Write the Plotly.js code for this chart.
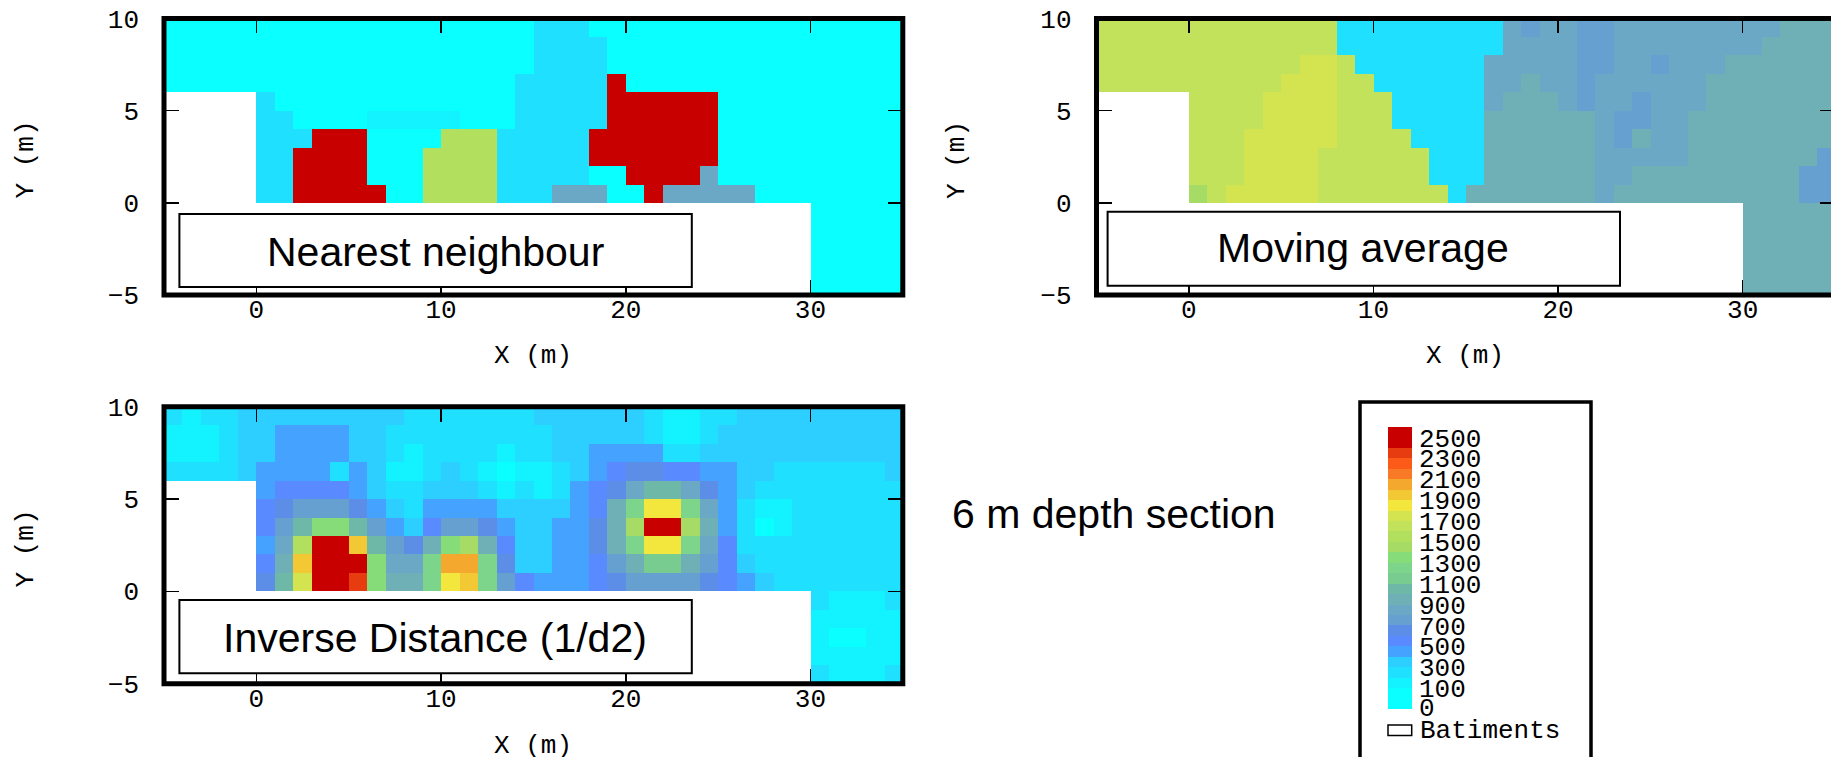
<!DOCTYPE html>
<html>
<head>
<meta charset="utf-8">
<script src="https://cdn.plot.ly/plotly-3.0.1.min.js"></script>
<style>html,body{margin:0;padding:0;background:#fff;overflow:hidden;width:1831px;height:757px}#g{width:1900px;height:757px}</style>
</head>
<body>
<div id="g"></div>
<script>
const _ = null;
// Legend classes, bottom to top (each class is 100 wide)
const legendColors = ['#0affff','#12f3ff','#20e0ff','#2ccfff','#45a3ff','#5a8aff','#5c8ee8','#65a0d0','#6aa8c5','#6eb0b5','#6eb8a8','#78cc8f','#7cd58a','#85dc78','#a6dc65','#b3df5e','#c3e25b','#d4e350','#f3e73e','#f3c835','#f4a92e','#f97a26','#fc5a18','#e63c10','#c80000'];
const legendValues = [50,150,250,350,450,550,650,750,850,950,1050,1150,1250,1350,1450,1550,1650,1750,1850,1950,2050,2150,2250,2350,2450];
const legendEdges = [-100,100,200,300,400,500,600,700,800,900,1000,1100,1200,1300,1400,1500,1600,1700,1800,1900,2000,2100,2200,2300,2400,2600];
const legendLabels = ['0','100','300','500','700','900','1100','1300','1500','1700','1900','2100','2300','2500'];
const legendLabelAt = [-79,100,300,500,700,900,1100,1300,1500,1700,1900,2100,2300,2500];

const xTicks = [0,10,20,30];
const yTicks = [-5,0,5,10];

// Grids: rows from y=9..10 down to y=-5..-4; columns from x=-5..-4 to x=34..35
const nearestRows = [
[50,50,50,50,50, 50,50,50,50,50,50,50,50,50,50, 50,50,50,50,50,250,250,250,50,50, 50,50,50,50,50,50,50,50,50,50, 50,50,50,50,50],
[50,50,50,50,50, 50,50,50,50,50,50,50,50,50,50, 50,50,50,50,50,250,250,250,250,50, 50,50,50,50,50,50,50,50,50,50, 50,50,50,50,50],
[50,50,50,50,50, 50,50,50,50,50,50,50,50,50,50, 50,50,50,50,50,250,250,250,250,50, 50,50,50,50,50,50,50,50,50,50, 50,50,50,50,50],
[50,50,50,50,50, 50,50,50,50,50,50,50,50,50,50, 50,50,50,50,250,250,250,250,250,2450, 50,50,50,50,50,50,50,50,50,50, 50,50,50,50,50],
[_,_,_,_,_, 250,50,50,50,50,50,50,50,50,50, 50,50,50,50,250,250,250,250,250,2450, 2450,2450,2450,2450,2450,50,50,50,50,50, 50,50,50,50,50],
[_,_,_,_,_, 250,250,50,50,50,50,150,150,150,150, 150,50,50,50,250,250,250,250,250,2450, 2450,2450,2450,2450,2450,50,50,50,50,50, 50,50,50,50,50],
[_,_,_,_,_, 250,250,250,2450,2450,2450,50,50,50,50, 1550,1550,1550,250,250,250,250,250,2450,2450, 2450,2450,2450,2450,2450,50,50,50,50,50, 50,50,50,50,50],
[_,_,_,_,_, 250,250,2450,2450,2450,2450,50,50,50,1550, 1550,1550,1550,250,250,250,250,250,2450,2450, 2450,2450,2450,2450,2450,50,50,50,50,50, 50,50,50,50,50],
[_,_,_,_,_, 250,250,2450,2450,2450,2450,50,50,50,1550, 1550,1550,1550,250,250,250,250,250,50,50, 2450,2450,2450,2450,850,50,50,50,50,50, 50,50,50,50,50],
[_,_,_,_,_, 250,250,2450,2450,2450,2450,2450,50,50,1550, 1550,1550,1550,250,250,250,850,850,850,50, 50,2450,850,850,850,850,850,50,50,50, 50,50,50,50,50],
[_,_,_,_,_, _,_,_,_,_,_,_,_,_,_, _,_,_,_,_,_,_,_,_,_, _,_,_,_,_,_,_,_,_,_, 50,50,50,50,50],
[_,_,_,_,_, _,_,_,_,_,_,_,_,_,_, _,_,_,_,_,_,_,_,_,_, _,_,_,_,_,_,_,_,_,_, 50,50,50,50,50],
[_,_,_,_,_, _,_,_,_,_,_,_,_,_,_, _,_,_,_,_,_,_,_,_,_, _,_,_,_,_,_,_,_,_,_, 50,50,50,50,50],
[_,_,_,_,_, _,_,_,_,_,_,_,_,_,_, _,_,_,_,_,_,_,_,_,_, _,_,_,_,_,_,_,_,_,_, 50,50,50,50,50],
[_,_,_,_,_, _,_,_,_,_,_,_,_,_,_, _,_,_,_,_,_,_,_,_,_, _,_,_,_,_,_,_,_,_,_, 50,50,50,50,50]
];
const movingRows = [
[1650,1650,1650,1650,1650, 1650,1650,1650,1650,1650,1650,1650,1650,250,250, 250,250,250,250,250,250,250,850,750,850, 850,750,750,850,850,850,850,850,850,850, 850,850,950,950,950],
[1650,1650,1650,1650,1650, 1650,1650,1650,1650,1650,1650,1650,1650,250,250, 250,250,250,250,250,250,250,850,850,850, 850,750,750,850,850,850,850,850,850,850, 850,950,950,950,950],
[1650,1650,1650,1650,1650, 1650,1650,1650,1650,1650,1650,1750,1750,1650,250, 250,250,250,250,250,250,850,850,850,850, 850,750,750,850,850,750,850,850,850,950, 950,950,950,950,950],
[1650,1650,1650,1650,1650, 1650,1650,1650,1650,1650,1750,1750,1750,1650,1650, 250,250,250,250,250,250,850,850,950,850, 850,750,850,850,850,850,850,850,950,950, 950,950,950,950,950],
[_,_,_,_,_, 1650,1650,1650,1650,1750,1750,1750,1750,1650,1650, 1650,250,250,250,250,250,850,950,950,950, 850,750,850,850,750,850,850,850,950,950, 950,950,950,950,950],
[_,_,_,_,_, 1650,1650,1650,1650,1750,1750,1750,1750,1650,1650, 1650,250,250,250,250,250,950,950,950,950, 950,950,850,750,750,850,850,950,950,950, 950,950,950,950,950],
[_,_,_,_,_, 1650,1650,1650,1750,1750,1750,1750,1750,1650,1650, 1650,1650,250,250,250,250,950,950,950,950, 950,950,850,750,950,850,850,950,950,950, 950,950,950,950,950],
[_,_,_,_,_, 1650,1650,1650,1750,1750,1750,1750,1650,1650,1650, 1650,1650,1650,250,250,250,950,950,950,950, 950,950,850,850,850,850,850,950,950,950, 950,950,950,950,750],
[_,_,_,_,_, 1650,1650,1650,1750,1750,1750,1750,1650,1650,1650, 1650,1650,1650,250,250,250,950,950,950,950, 950,950,850,850,950,950,950,950,950,950, 950,950,950,750,750],
[_,_,_,_,_, 1450,1650,1750,1750,1750,1750,1750,1650,1650,1650, 1650,1650,1650,1650,250,950,950,950,950,950, 950,950,850,950,950,950,950,950,950,950, 950,950,950,750,750],
[_,_,_,_,_, _,_,_,_,_,_,_,_,_,_, _,_,_,_,_,_,_,_,_,_, _,_,_,_,_,_,_,_,_,_, 950,950,950,950,950],
[_,_,_,_,_, _,_,_,_,_,_,_,_,_,_, _,_,_,_,_,_,_,_,_,_, _,_,_,_,_,_,_,_,_,_, 950,950,950,950,950],
[_,_,_,_,_, _,_,_,_,_,_,_,_,_,_, _,_,_,_,_,_,_,_,_,_, _,_,_,_,_,_,_,_,_,_, 950,950,950,950,950],
[_,_,_,_,_, _,_,_,_,_,_,_,_,_,_, _,_,_,_,_,_,_,_,_,_, _,_,_,_,_,_,_,_,_,_, 950,950,950,950,950],
[_,_,_,_,_, _,_,_,_,_,_,_,_,_,_, _,_,_,_,_,_,_,_,_,_, _,_,_,_,_,_,_,_,_,_, 950,950,950,950,950]
];
const inverseRows = [
[250,150,250,250,350, 350,350,350,350,350,350,350,350,250,250, 250,250,250,250,250,350,350,350,350,350, 350,250,150,150,250,250,350,350,350,350, 350,350,350,350,350],
[150,150,150,250,350, 350,450,450,450,450,350,350,250,250,250, 250,250,250,250,250,250,350,350,350,350, 350,250,150,150,250,350,350,350,350,350, 350,350,350,350,350],
[150,150,150,250,350, 350,450,450,450,450,350,350,250,150,250, 250,250,250,150,250,250,350,350,450,450, 450,450,250,250,350,350,350,350,350,350, 350,350,350,350,350],
[250,250,250,250,350, 450,450,450,450,250,450,350,150,150,250, 350,250,150,50,150,150,250,350,450,550, 650,650,550,550,450,450,350,350,250,250, 250,250,250,250,350],
[_,_,_,_,_, 450,550,550,550,550,450,350,250,250,350, 350,350,250,150,250,150,250,450,550,650, 850,1050,1050,850,650,450,350,250,250,250, 250,250,250,250,250],
[_,_,_,_,_, 550,650,750,750,750,650,450,350,250,450, 450,450,450,350,350,350,350,450,550,950, 1250,1850,1850,1250,850,450,250,150,150,250, 250,250,250,250,250],
[_,_,_,_,_, 550,750,1050,1350,1350,1050,750,450,350,550, 750,750,650,450,350,350,450,450,650,950, 1450,2450,2450,1450,950,450,250,50,150,250, 250,250,250,250,250],
[_,_,_,_,_, 450,850,1550,2450,2450,1950,1050,750,650,950, 1350,1450,950,550,350,350,450,450,650,950, 1250,1850,1850,1250,850,550,250,250,250,250, 250,250,250,250,250],
[_,_,_,_,_, 550,950,1950,2450,2450,2450,1350,850,850,1250, 2050,2050,1250,650,350,350,450,450,550,750, 950,1150,1150,950,750,550,350,250,250,250, 250,250,250,250,250],
[_,_,_,_,_, 650,1050,1750,2450,2450,2350,1350,950,950,1250, 1850,1950,1250,750,550,450,450,450,550,650, 750,750,750,750,650,550,450,350,250,250, 250,250,250,250,250],
[_,_,_,_,_, _,_,_,_,_,_,_,_,_,_, _,_,_,_,_,_,_,_,_,_, _,_,_,_,_,_,_,_,_,_, 250,150,150,150,250],
[_,_,_,_,_, _,_,_,_,_,_,_,_,_,_, _,_,_,_,_,_,_,_,_,_, _,_,_,_,_,_,_,_,_,_, 150,150,150,150,150],
[_,_,_,_,_, _,_,_,_,_,_,_,_,_,_, _,_,_,_,_,_,_,_,_,_, _,_,_,_,_,_,_,_,_,_, 150,50,50,150,150],
[_,_,_,_,_, _,_,_,_,_,_,_,_,_,_, _,_,_,_,_,_,_,_,_,_, _,_,_,_,_,_,_,_,_,_, 150,150,150,150,150],
[_,_,_,_,_, _,_,_,_,_,_,_,_,_,_, _,_,_,_,_,_,_,_,_,_, _,_,_,_,_,_,_,_,_,_, 250,150,150,150,250]
];

const W = 1900, H = 757;
const px = v => v / W, py = v => 1 - v / H;
const MONO = 'Liberation Mono, monospace', SANS = 'Liberation Sans, Arial, sans-serif';
const monoSize = 26;

// Stepped colour scale built from the legend classes
const colorscale = [];
legendColors.forEach((c, i) => {
  colorscale.push([i / legendColors.length, c]);
  colorscale.push([(i + 1) / legendColors.length, c]);
});

const panels = [
  {rows: nearestRows, name: '',  l: 164,    r: 902.8,  t: 18.4,  b: 295,   label: 'Nearest neighbour',       box: [179.4, 691.8, 214, 287],  lx: 435,  ly: 252, xtx: 533,  xty: 356, ytx: 25.5, yty: 160},
  {rows: movingRows,  name: '2', l: 1096.5, r: 1835,   t: 18.4,  b: 295,   label: 'Moving average',          box: [1107.6, 1620, 211.7, 285.7], lx: 1363, ly: 248, xtx: 1465, xty: 356, ytx: 957, yty: 160},
  {rows: inverseRows, name: '3', l: 164,    r: 902.8,  t: 406.7, b: 683.7, label: 'Inverse Distance (1/d2)', box: [179.4, 691.8, 600, 673.3], lx: 435,  ly: 638, xtx: 533,  xty: 746, ytx: 25.5, yty: 549}
];

const data = [], shapes = [], annotations = [];
const layout = {
  width: W, height: H, margin: {l: 0, r: 0, t: 0, b: 0, pad: 0},
  paper_bgcolor: '#fff', plot_bgcolor: '#fff', showlegend: false, hovermode: false,
  font: {family: MONO, size: monoSize, color: '#000'}
};

panels.forEach(p => {
  data.push({
    type: 'heatmap', z: p.rows.slice().reverse(), x0: -4.5, dx: 1, y0: -4.5, dy: 1,
    xaxis: 'x' + p.name, yaxis: 'y' + p.name, zmin: 0, zmax: 2500,
    colorscale: colorscale, showscale: false, zsmooth: false, hoverongaps: false
  });
  const ax = {
    showgrid: false, zeroline: false, showline: false, ticks: 'inside', ticklen: 15, tickwidth: 1.5,
    tickcolor: '#000', mirror: 'ticks', tickmode: 'array', tickfont: {family: MONO, size: monoSize, color: '#000'},
    automargin: false, fixedrange: true
  };
  layout['xaxis' + p.name] = Object.assign({}, ax, {
    domain: [px(p.l), px(p.r)], range: [-5, 35], tickvals: xTicks, ticktext: xTicks.map(String),
    anchor: 'y' + p.name, ticklabelstandoff: -4
  });
  layout['yaxis' + p.name] = Object.assign({}, ax, {
    domain: [py(p.b), py(p.t)], range: [-5, 10], tickvals: yTicks, ticktext: ['\u22125', '0', '5', '10'],
    anchor: 'x' + p.name, ticklabelstandoff: 24
  });
  shapes.push({type: 'rect', xref: 'paper', yref: 'paper', x0: px(p.l), x1: px(p.r), y0: py(p.b), y1: py(p.t),
    line: {color: '#000', width: 5}, fillcolor: 'rgba(0,0,0,0)', layer: 'above'});
  shapes.push({type: 'rect', xref: 'paper', yref: 'paper', x0: px(p.box[0]), x1: px(p.box[1]), y0: py(p.box[3]), y1: py(p.box[2]),
    line: {color: '#000', width: 2}, fillcolor: '#fff', layer: 'above'});
  annotations.push({xref: 'paper', yref: 'paper', x: px(p.lx), y: py(p.ly), text: p.label, showarrow: false,
    xanchor: 'center', yanchor: 'middle', font: {family: SANS, size: 41, color: '#000'}});
  annotations.push({xref: 'paper', yref: 'paper', x: px(p.xtx), y: py(p.xty), text: 'X (m)', showarrow: false,
    xanchor: 'center', yanchor: 'middle', font: {family: MONO, size: monoSize, color: '#000'}});
  annotations.push({xref: 'paper', yref: 'paper', x: px(p.ytx), y: py(p.yty), text: 'Y (m)', showarrow: false, textangle: -90,
    xanchor: 'center', yanchor: 'middle', font: {family: MONO, size: monoSize, color: '#000'}});
});

// Free caption
annotations.push({xref: 'paper', yref: 'paper', x: px(1114), y: py(514), text: '6 m depth section', showarrow: false,
  xanchor: 'center', yanchor: 'middle', font: {family: SANS, size: 41, color: '#000'}});

// Legend frame, colour bar and key
shapes.push({type: 'rect', xref: 'paper', yref: 'paper', x0: px(1360), x1: px(1591), y0: py(790), y1: py(402),
  line: {color: '#000', width: 3.5}, fillcolor: 'rgba(0,0,0,0)', layer: 'below'});
data.push({
  type: 'heatmap', z: legendValues.map(v => [v]), x: [0, 1], y: legendEdges, xaxis: 'x4', yaxis: 'y4',
  zmin: 0, zmax: 2500, colorscale: colorscale, showscale: false, zsmooth: false
});
layout.xaxis4 = {domain: [px(1388), px(1412)], range: [0, 1], visible: false, anchor: 'y4', fixedrange: true};
layout.yaxis4 = {domain: [py(709), py(427)], range: [-100, 2600], side: 'right', anchor: 'x4', showgrid: false, zeroline: false,
  showline: false, ticks: '', tickmode: 'array', tickvals: legendLabelAt, ticktext: legendLabels, ticklabelstandoff: 6,
  tickfont: {family: MONO, size: monoSize, color: '#000'}, automargin: false, fixedrange: true};
shapes.push({type: 'rect', xref: 'paper', yref: 'paper', x0: px(1388), x1: px(1411.7), y0: py(735.5), y1: py(725),
  line: {color: '#000', width: 1.5}, fillcolor: '#fff', layer: 'above'});
annotations.push({xref: 'paper', yref: 'paper', x: px(1418), y: py(731), text: 'Batiments', showarrow: false,
  xanchor: 'left', yanchor: 'middle', font: {family: MONO, size: monoSize, color: '#000'}});

layout.shapes = shapes;
layout.annotations = annotations;
Plotly.newPlot('g', data, layout, {displayModeBar: false, staticPlot: true});
</script>
</body>
</html>
